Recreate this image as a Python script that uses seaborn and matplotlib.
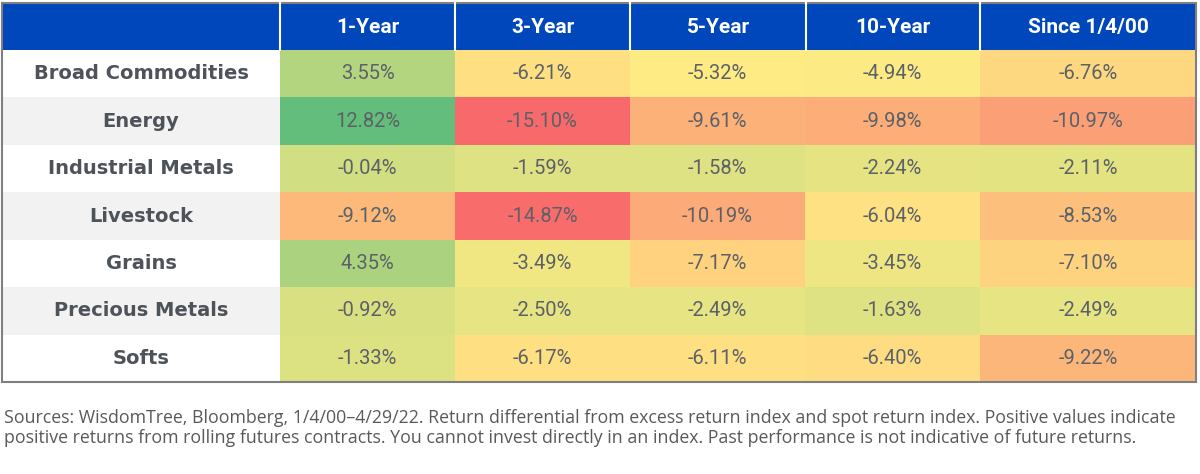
import numpy as np
import pandas as pd
import seaborn as sns
import matplotlib.pyplot as plt
from matplotlib.colors import LinearSegmentedColormap, ListedColormap, TwoSlopeNorm
from matplotlib.patches import Rectangle

# --- dados da tabela ---
categories = ["Broad Commodities", "Energy", "Industrial Metals", "Livestock",
              "Grains", "Precious Metals", "Softs"]
periods = ["1-Year", "3-Year", "5-Year", "10-Year", "Since 1/4/00"]
one_year = [3.55, 12.82, -0.04, -9.12, 4.35, -0.92, -1.33]
three_year = [-6.21, -15.10, -1.59, -14.87, -3.49, -2.50, -6.17]
five_year = [-5.32, -9.61, -1.58, -10.19, -7.17, -2.49, -6.11]
ten_year = [-4.94, -9.98, -2.24, -6.04, -3.45, -1.63, -6.40]
since_start = [-6.76, -10.97, -2.11, -8.53, -7.10, -2.49, -9.22]
footnote = ("Sources: WisdomTree, Bloomberg, 1/4/00\u20134/29/22. Return differential from excess return index "
            "and spot return index. Positive values indicate\npositive returns from rolling futures contracts. "
            "You cannot invest directly in an index. Past performance is not indicative of future returns.")

df = pd.DataFrame(dict(zip(periods, [one_year, three_year, five_year, ten_year, since_start])),
                  index=categories)
labels = df.map(lambda v: f"{v:.2f}%")

# escala de 3 cores estilo Excel (min vermelho, mediana amarelo, max verde)
cmap = LinearSegmentedColormap.from_list("ryg", ["#F8696B", "#FFEB84", "#63BE7B"])
vals = df.values.ravel()
norm = TwoSlopeNorm(vmin=vals.min(), vcenter=np.median(vals), vmax=vals.max())

W, H = 1200, 474
fig = plt.figure(figsize=(W / 100, H / 100), dpi=100)


def px_axes(x0, y0, x1, y1):
    # eixos posicionados em pixels (origem no topo)
    return fig.add_axes([x0 / W, 1 - y1 / H, (x1 - x0) / W, (y1 - y0) / H])


top, head_bot, bot = 3, 50, 382
col_edges = [2, 280, 455, 630, 806, 980, 1196]

cell_kws = dict(color="#5C6168", fontsize=14.5, family="Roboto", fontweight="normal")

# colunas 1-Year a 10-Year
ax_a = px_axes(col_edges[1], head_bot, col_edges[5], bot)
sns.heatmap(df[periods[:4]], ax=ax_a, cmap=cmap, norm=norm, cbar=False,
            annot=labels[periods[:4]].values, fmt="", annot_kws=cell_kws,
            xticklabels=False, yticklabels=False)

# coluna Since 1/4/00 (mais larga)
ax_b = px_axes(col_edges[5], head_bot, col_edges[6], bot)
sns.heatmap(df[[periods[4]]], ax=ax_b, cmap=cmap, norm=norm, cbar=False,
            annot=labels[[periods[4]]].values, fmt="", annot_kws=cell_kws,
            xticklabels=False, yticklabels=False)

# coluna de rótulos com linhas alternadas
stripes = pd.DataFrame({"stripe": [i % 2 for i in range(len(categories))]}, index=categories)
ax_l = px_axes(col_edges[0], head_bot, col_edges[1], bot)
sns.heatmap(stripes, ax=ax_l, cmap=ListedColormap(["white", "#F2F2F2"]), vmin=0, vmax=1,
            cbar=False, annot=np.array(categories).reshape(-1, 1), fmt="",
            annot_kws=dict(color="#4D5359", fontsize=14, fontweight="bold", family="DejaVu Sans"),
            xticklabels=False, yticklabels=False)

for ax in (ax_a, ax_b, ax_l):
    ax.set_xlabel("")
    ax.set_ylabel("")

# sobreposição: cabeçalho, borda e nota de rodapé
ov = fig.add_axes([0, 0, 1, 1])
ov.set_xlim(0, W)
ov.set_ylim(H, 0)
ov.axis("off")
ov.patch.set_alpha(0)

ov.add_patch(Rectangle((col_edges[0], top), col_edges[-1] - col_edges[0], head_bot - top,
                       facecolor="#0047BB", edgecolor="none"))
for x in col_edges[1:-1]:
    ov.plot([x, x], [top, head_bot], color="white", lw=1.5)
for i, name in enumerate(periods):
    xc = (col_edges[i + 1] + col_edges[i + 2]) / 2
    ov.text(xc, (top + head_bot) / 2 + 1, name, color="white", fontsize=15,
            fontweight="bold", family="Roboto", ha="center", va="center")

ov.add_patch(Rectangle((col_edges[0], top), col_edges[-1] - col_edges[0], bot - top,
                       facecolor="none", edgecolor="#7F7F7F", lw=1.5))

ov.text(4, 409, footnote, color="#595959", fontsize=12.8, family="Open Sans",
        ha="left", va="top", linespacing=1.14)

fig.savefig("out.png", dpi=100)
